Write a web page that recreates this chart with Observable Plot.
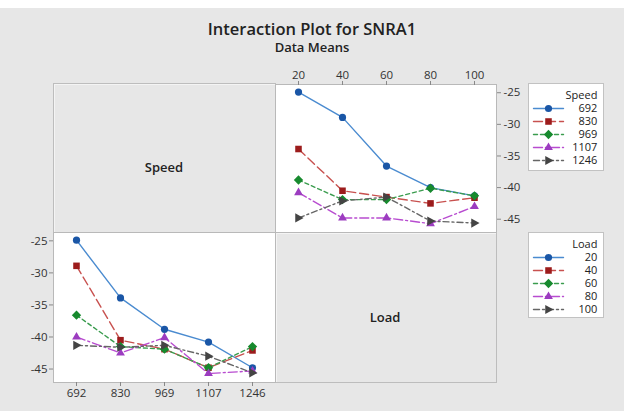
<!DOCTYPE html>
<html><head><meta charset="utf-8">
<script src="https://cdn.jsdelivr.net/npm/d3@7"></script>
<script src="https://cdn.jsdelivr.net/npm/@observablehq/plot@0.6"></script>
<style>
body{margin:0;background:#fff;}
#root{position:relative;width:624px;height:411px;background:#e7e7e7;overflow:hidden;font-family:"Open Sans",sans-serif;}
#root svg{position:absolute;left:0;top:0;}
.abs{position:absolute;box-sizing:border-box;}
</style></head><body><div id="root"></div>
<script>
// ---- data ----
const speeds = ["692", "830", "969", "1107", "1246"];
const loads = ["20", "40", "60", "80", "100"];
const yTicks = [-25, -30, -35, -40, -45];
// mean SNRA1 for each speed, across loads 20,40,60,80,100
const speed692 = [-24.9, -28.9, -36.6, -40.0, -41.3];
const speed830 = [-33.9, -40.5, -41.5, -42.5, -41.6];
const speed969 = [-38.8, -41.9, -41.9, -40.1, -41.3];
const speed1107 = [-40.8, -44.8, -44.8, -45.7, -43.0];
const speed1246 = [-44.8, -42.1, -41.5, -45.3, -45.6];
const means = [speed692, speed830, speed969, speed1107, speed1246];

// ---- styles ----
const lineColors = ["#4a8bd0", "#c8514f", "#3a9c4e", "#b84cd0", "#666666"];
const markColors = ["#1a56a6", "#9c1c1c", "#178a2e", "#9c3cc0", "#444444"];
const dashes = [null, "9,4", "4,3", "9,3,2,3", "6,3,2,3"];
const triangleRight = {draw(ctx, size) {
  const r = Math.sqrt(size) * 0.62;
  ctx.moveTo(r * 1.1, 0); ctx.lineTo(-r * 0.7, -r); ctx.lineTo(-r * 0.7, r); ctx.closePath();
}};
const symbols = ["circle", "square", "diamond2", "triangle2", triangleRight];
const radii = [3.6, 3.7, 4.2, 4.2, 4.2];

const W = 624, H = 411;
const root = document.getElementById("root");
const yDomain = [-47.1, -23.7];
const fontFamily = '"Open Sans", sans-serif';

function seriesMarks(data, xKey) {
  const marks = [];
  for (let i = 0; i < 5; i++) {
    const d = data.filter(r => r.s === i);
    marks.push(Plot.line(d, {x: xKey, y: "v", stroke: lineColors[i], strokeWidth: 1.4, strokeDasharray: dashes[i]}));
  }
  for (let i = 0; i < 5; i++) {
    const d = data.filter(r => r.s === i);
    marks.push(Plot.dot(d, {x: xKey, y: "v", fill: markColors[i], stroke: "none", symbol: symbols[i], r: radii[i]}));
  }
  return marks;
}

// table: speed index, load index
const table = [];
means.forEach((row, si) => row.forEach((v, li) => table.push({speed: speeds[si], load: loads[li], si, li, v})));

// top-right panel: lines per speed, x = load
const trData = table.map(d => ({...d, s: d.si}));
const tr = Plot.plot({
  width: W, height: H,
  marginLeft: 275, marginRight: W - 496, marginTop: 84, marginBottom: H - 232,
  style: {background: "transparent", fontFamily, fontSize: "11.5px", color: "#333"},
  x: {type: "point", domain: loads, padding: 0.5},
  y: {domain: yDomain},
  marks: [
    Plot.frame({fill: "white", stroke: "#b9b9b9"}),
    Plot.axisX({anchor: "top", tickSize: 4, tickPadding: 2, label: null, stroke: "#888"}),
    Plot.axisY({anchor: "right", ticks: yTicks, tickSize: 4, tickPadding: 3, label: null, tickFormat: d => String(d), stroke: "#888"}),
    ...seriesMarks(trData, "load")
  ]
});

// bottom-left panel: lines per load, x = speed
const blData = table.map(d => ({...d, s: d.li}));
const bl = Plot.plot({
  width: W, height: H,
  marginLeft: 53, marginRight: W - 275, marginTop: 232, marginBottom: H - 382,
  style: {background: "transparent", fontFamily, fontSize: "11.5px", color: "#333"},
  x: {type: "point", domain: speeds, padding: 0.5},
  y: {domain: yDomain},
  marks: [
    Plot.frame({fill: "white", stroke: "#b9b9b9"}),
    Plot.axisX({anchor: "bottom", tickSize: 4, tickPadding: 2, label: null, stroke: "#888"}),
    Plot.axisY({anchor: "left", ticks: yTicks, tickSize: 4, tickPadding: 2, label: null, tickFormat: d => String(d), stroke: "#888"}),
    ...seriesMarks(blData, "speed")
  ]
});

function legend(title, cats, top, bottom, y0, y1) {
  const rows = cats.map((c, i) => ({c, i}));
  return Plot.plot({
    width: W, height: H,
    marginLeft: 528, marginRight: W - 603, marginTop: top, marginBottom: H - bottom,
    style: {background: "transparent", fontFamily, fontSize: "11px", color: "#333"},
    x: {domain: [0, 1], range: [533, 563], axis: null},
    y: {type: "point", domain: cats, range: [y0, y1], padding: 0, axis: null},
    marks: [
      Plot.frame({fill: "white", stroke: "#c2c2c2"}),
      ...rows.map(r => Plot.line([[0, r.c], [1, r.c]], {stroke: lineColors[r.i], strokeWidth: 1.4, strokeDasharray: dashes[r.i]})),
      ...rows.map(r => Plot.dot([[0.5, r.c]], {fill: markColors[r.i], stroke: "none", symbol: symbols[r.i], r: radii[r.i]})),
      Plot.text(rows, {x: () => 2.13, y: "c", text: "c", textAnchor: "end", fill: "#222", fontSize: 11}),
      Plot.text([title], {x: () => 2.13, y: () => cats[0], dy: -13, text: d => d, textAnchor: "end", fill: "#222", fontSize: 11})
    ]
  });
}

// decoration: white top strip, grey cells, titles
function box(left, top, w, h, css) {
  const d = document.createElement("div");
  d.className = "abs";
  Object.assign(d.style, {left: left + "px", top: top + "px", width: w + "px", height: h + "px"}, css);
  root.appendChild(d);
  return d;
}
box(0, 0, W, 8, {background: "#fff"});
box(53, 83, 223, 150, {border: "1px solid #bdbdbd", boxShadow: "inset 1px 1px 0 #f4f4f4"});
box(275, 232, 222, 151, {border: "1px solid #bdbdbd", boxShadow: "inset 1px 1px 0 #f4f4f4"});

root.appendChild(bl);
root.appendChild(tr);
root.appendChild(legend("Speed", speeds, 83, 170, 108, 160));
root.appendChild(legend("Load", loads, 232, 317, 257, 309));

function label(text, cx, cy, size, weight) {
  const h = Math.round(size * 1.2);
  const d = box(cx - 150, cy - h / 2, 300, h, {
    textAlign: "center", lineHeight: h + "px",
    fontSize: size + "px", fontWeight: weight, color: "#222", whiteSpace: "nowrap"
  });
  d.textContent = text;
}
label("Interaction Plot for SNRA1", 312, 29, 16.5, 600);
label("Data Means", 312, 47, 13, 600);
label("Speed", 164, 167, 13, 600);
label("Load", 385, 317, 13, 600);
</script></body></html>
